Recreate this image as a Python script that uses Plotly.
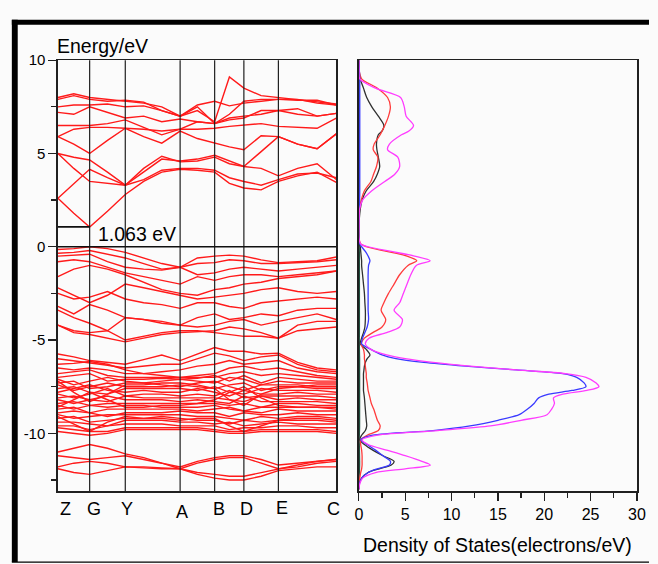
import plotly.graph_objects as go

W, H = 658, 564

# ---------------- band structure data ----------------
k_labels = ["Z", "G", "Y", "A", "B", "D", "E", "C"]
k_pos = [0.0, 0.114, 0.242, 0.439, 0.563, 0.668, 0.792, 1.0]
# sampled k path (Z, zg, G, gy, Y, ya1, ya2, A, ab, B, bd, D, de, E, ec1, ec2, C)
k_grid = [0.0, 0.057, 0.114, 0.178, 0.242, 0.308, 0.373, 0.439, 0.501,
          0.563, 0.616, 0.668, 0.730, 0.792, 0.861, 0.931, 1.0]

band_gap = 1.063
fermi_level = 0.0

conduction_bands = [
    [2.6, 1.8, 1.06, 1.9, 2.8, 3.5, 4.0, 4.15, 4.1, 4.0, 3.4, 3.15, 3.05, 3.5, 3.8, 4.0, 3.45],
    [2.6, 3.4, 4.15, 3.7, 3.3, 4.2, 4.85, 4.55, 4.6, 4.8, 4.45, 4.3, 4.2, 3.8, 4.2, 4.45, 3.6],
    [5.0, 4.2, 3.5, 3.4, 3.3, 3.6, 4.1, 4.2, 4.2, 4.1, 3.7, 3.5, 3.3, 3.6, 3.9, 3.95, 3.7],
    [5.0, 4.8, 4.65, 4.0, 3.3, 4.0, 4.7, 4.6, 4.7, 4.9, 4.6, 4.3, 5.1, 5.9, 5.5, 5.25, 6.05],
    [5.9, 5.5, 5.0, 5.7, 6.35, 5.9, 5.55, 6.2, 5.8, 5.55, 5.35, 5.2, 5.95, 5.9, 5.5, 5.25, 6.05],
    [5.9, 6.3, 6.4, 6.4, 6.35, 6.3, 6.2, 6.3, 6.3, 6.35, 6.45, 6.5, 6.6, 6.45, 6.4, 6.35, 6.9],
    [6.5, 6.5, 6.5, 6.6, 6.8, 6.4, 6.0, 6.3, 6.7, 6.6, 6.9, 7.0, 7.1, 7.3, 7.1, 7.0, 7.15],
    [7.2, 7.1, 7.5, 7.2, 6.9, 7.0, 6.7, 6.85, 6.7, 6.6, 6.8, 6.9, 7.3, 7.3, 7.4, 7.0, 7.15],
    [7.5, 7.6, 7.6, 7.65, 7.5, 7.55, 7.3, 7.0, 7.6, 7.8, 7.55, 7.7, 7.8, 7.9, 7.9, 7.7, 7.6],
    [7.9, 8.1, 7.9, 7.8, 7.85, 7.75, 7.3, 7.0, 7.5, 6.6, 7.1, 7.8, 7.9, 7.9, 7.85, 7.85, 7.6],
    [8.0, 8.2, 8.0, 7.9, 7.8, 7.7, 7.5, 7.0, 7.3, 6.7, 9.1, 8.5, 8.1, 8.0, 7.9, 7.75, 7.65],
]

valence_bands = [
    [-0.15, -0.1, 0.0, -0.1, -0.3, -0.6, -0.9, -1.1, -0.6, -0.5, -0.45, -0.5, -0.7, -0.85, -0.8, -0.75, -0.55],
    [-0.35, -0.3, -0.2, -0.4, -0.6, -0.9, -1.2, -1.1, -0.9, -0.85, -0.7, -0.75, -0.9, -0.9, -0.85, -0.8, -0.7],
    [-0.5, -0.45, -0.4, -0.8, -1.1, -1.2, -1.25, -1.1, -1.5, -1.4, -1.2, -1.1, -1.2, -1.3, -1.2, -1.1, -1.0],
    [-0.8, -0.7, -0.8, -1.1, -1.4, -1.6, -1.8, -2.0, -1.6, -1.8, -1.6, -1.5, -1.5, -1.6, -1.5, -1.4, -1.3],
    [-1.6, -1.2, -1.0, -1.2, -1.5, -1.9, -2.3, -2.5, -2.6, -2.3, -2.2, -2.0, -1.9, -1.7, -1.6, -1.5, -1.3],
    [-2.2, -2.6, -3.0, -2.6, -2.0, -2.2, -2.4, -2.6, -2.8, -2.7, -2.6, -2.5, -2.3, -2.2, -2.4, -2.5, -2.4],
    [-2.5, -2.8, -2.7, -2.4, -2.8, -3.0, -3.1, -3.3, -3.0, -3.0, -3.2, -3.3, -3.0, -2.9, -2.8, -2.7, -2.8],
    [-3.2, -3.6, -3.1, -3.4, -3.8, -3.9, -4.0, -4.2, -3.8, -3.6, -3.9, -3.8, -3.6, -3.7, -3.4, -3.3, -3.3],
    [-3.4, -3.8, -4.1, -4.5, -3.8, -3.9, -4.1, -4.2, -4.3, -4.2, -4.0, -3.9, -4.2, -4.0, -3.8, -3.6, -3.9],
    [-4.2, -4.5, -4.6, -4.5, -5.0, -4.8, -4.6, -4.5, -4.5, -4.6, -4.7, -4.8, -4.8, -4.9, -4.2, -4.0, -4.0],
    [-4.2, -4.6, -4.7, -4.9, -5.1, -4.9, -4.7, -4.6, -4.55, -4.5, -4.3, -4.4, -4.6, -4.9, -4.5, -4.4, -4.3],
]

dense_bands = [
    [-5.75, -5.9, -6.1, -6.2, -6.3, -6.05, -5.8, -6.1, -5.75, -5.4, -5.6, -5.6, -5.75, -5.7, -6.2, -6.5, -6.6],
    [-6.0, -6.1, -6.2, -6.35, -6.5, -6.4, -6.3, -6.3, -6.0, -5.7, -5.85, -6.1, -5.9, -5.8, -6.3, -6.6, -6.7],
    [-6.3, -6.25, -6.15, -6.3, -6.6, -6.8, -6.7, -6.6, -6.4, -6.3, -6.1, -6.3, -6.2, -6.1, -6.5, -6.7, -6.8],
    [-6.5, -6.6, -6.5, -6.6, -6.8, -6.8, -6.9, -7.0, -6.9, -6.8, -6.5, -6.4, -6.6, -6.5, -6.7, -6.9, -7.0],
    [-6.8, -6.7, -6.6, -6.9, -7.0, -7.0, -7.0, -7.0, -7.0, -7.0, -6.8, -6.7, -6.9, -6.8, -6.9, -7.0, -7.1],
    [-7.0, -6.9, -6.8, -7.2, -7.1, -7.1, -7.05, -7.1, -7.05, -6.9, -7.2, -6.9, -7.3, -7.0, -7.1, -7.2, -7.2],
    [-7.1, -7.4, -7.2, -7.0, -7.2, -7.3, -7.2, -7.1, -7.2, -7.3, -7.0, -7.1, -7.4, -7.2, -7.3, -7.3, -7.3],
    [-7.3, -7.2, -7.6, -7.5, -7.3, -7.3, -7.4, -7.5, -7.3, -7.2, -7.5, -7.7, -7.4, -7.4, -7.4, -7.5, -7.5],
    [-7.4, -7.7, -7.5, -7.3, -7.5, -7.5, -7.5, -7.4, -7.5, -7.6, -7.4, -7.3, -7.7, -7.5, -7.5, -7.6, -7.6],
    [-7.6, -7.5, -7.8, -7.9, -7.6, -7.6, -7.6, -7.6, -7.7, -7.5, -7.8, -7.9, -7.6, -7.7, -7.7, -7.7, -7.8],
    [-7.8, -7.6, -7.4, -7.7, -7.8, -7.7, -7.8, -7.8, -7.6, -7.8, -8.0, -7.7, -7.9, -7.9, -7.8, -7.9, -7.9],
    [-7.9, -8.1, -7.9, -7.6, -8.0, -7.9, -7.9, -8.0, -7.9, -8.0, -7.7, -8.1, -8.0, -8.0, -8.0, -8.0, -8.1],
    [-8.1, -8.0, -8.2, -8.3, -8.0, -8.1, -8.1, -8.1, -8.1, -8.1, -8.2, -8.3, -8.0, -8.2, -8.1, -8.2, -8.2],
    [-8.2, -8.4, -8.2, -8.0, -8.2, -8.2, -8.2, -8.3, -8.2, -8.3, -8.4, -8.0, -8.3, -8.3, -8.3, -8.3, -8.4],
    [-8.4, -8.3, -8.5, -8.4, -8.4, -8.4, -8.4, -8.4, -8.4, -8.4, -8.5, -8.4, -8.6, -8.4, -8.4, -8.5, -8.5],
    [-8.5, -8.7, -8.5, -8.6, -8.5, -8.5, -8.6, -8.6, -8.6, -8.5, -8.7, -8.8, -8.6, -8.6, -8.6, -8.6, -8.7],
    [-8.7, -8.6, -8.9, -8.7, -8.7, -8.7, -8.7, -8.7, -8.8, -8.7, -8.6, -8.8, -8.9, -8.7, -8.8, -8.8, -8.8],
    [-8.9, -8.8, -8.9, -9.1, -8.9, -8.9, -8.9, -8.8, -8.9, -8.9, -9.1, -8.9, -9.0, -9.0, -8.9, -9.0, -9.0],
    [-9.0, -9.2, -9.1, -9.0, -9.0, -9.0, -9.0, -9.0, -9.1, -9.1, -9.2, -9.3, -9.1, -9.2, -9.1, -9.1, -9.2],
    [-9.2, -9.1, -9.4, -9.3, -9.2, -9.2, -9.1, -9.2, -9.3, -9.3, -9.5, -9.3, -9.4, -9.3, -9.3, -9.3, -9.4],
    [-9.4, -9.4, -9.5, -9.6, -9.3, -9.3, -9.3, -9.4, -9.4, -9.5, -9.4, -9.6, -9.5, -9.4, -9.5, -9.5, -9.5],
    [-9.6, -9.6, -9.8, -9.6, -9.5, -9.5, -9.5, -9.6, -9.6, -9.6, -9.8, -9.7, -9.7, -9.6, -9.6, -9.7, -9.7],
    [-9.7, -9.8, -9.9, -9.9, -9.7, -9.7, -9.7, -9.7, -9.7, -9.8, -9.9, -9.9, -9.8, -9.8, -9.8, -9.8, -9.9],
    [-9.9, -10.0, -10.1, -10.0, -9.8, -9.8, -9.8, -9.8, -9.8, -9.9, -10.0, -10.0, -9.9, -9.9, -9.9, -9.9, -10.0],
    [-7.2, -7.8, -8.3, -7.9, -7.4, -7.4, -7.3, -7.3, -7.4, -7.6, -8.2, -8.5, -7.9, -7.6, -7.5, -7.4, -7.4],
    [-8.6, -8.2, -7.8, -8.2, -8.6, -8.6, -8.5, -8.5, -8.4, -8.2, -7.8, -7.5, -8.1, -8.5, -8.6, -8.6, -8.6],
    [-9.1, -9.5, -9.9, -9.4, -9.1, -9.2, -9.2, -9.3, -9.2, -9.2, -9.6, -9.9, -9.6, -9.3, -9.2, -9.2, -9.3],
]

deep_bands = [
    [-11.0, -10.8, -10.6, -10.8, -11.1, -11.3, -11.6, -11.8, -11.5, -11.3, -11.2, -11.2, -11.4, -11.7, -11.6, -11.5, -11.4],
    [-11.2, -11.3, -11.4, -11.3, -11.2, -11.4, -11.6, -11.9, -12.1, -12.2, -12.3, -12.3, -12.1, -11.9, -11.7, -11.5, -11.4],
    [-11.8, -11.6, -11.5, -11.6, -11.8, -11.8, -11.85, -11.9, -11.6, -11.4, -11.3, -11.3, -11.6, -11.9, -11.8, -11.6, -11.5],
    [-11.9, -12.1, -12.2, -12.0, -11.8, -11.85, -11.9, -11.9, -12.2, -12.4, -12.5, -12.5, -12.3, -12.0, -11.9, -11.8, -11.8],
]

# ---------------- density of states data ----------------
dos_energy = [10, 9.5, 9.0, 8.5, 8.0, 7.5, 7.0, 6.5, 6.2, 6.0, 5.5, 5.2, 4.8, 4.3, 3.9, 3.5,
              3.0, 2.5, 2.0, 1.5, 1.0, 0.5, 0.15, 0.0, -0.25, -0.5, -0.75, -1.0, -1.5, -2.0,
              -2.5, -3.0, -3.4, -3.9, -4.3, -4.6, -4.9, -5.2, -5.5, -5.8, -6.0, -6.2, -6.4,
              -6.6, -6.8, -7.0, -7.3, -7.5, -7.7, -7.9, -8.1, -8.4, -8.7, -9.0, -9.3, -9.6,
              -9.85, -10.1, -10.35, -10.6, -10.9, -11.2, -11.5, -11.7, -11.9, -12.1, -12.4,
              -12.7, -13.0]

dos_total = [0, 0.02, 0.1, 1.8, 4.5, 4.9, 5.1, 5.9, 5.4, 4.6, 3.3, 3.1, 4.2, 4.4, 3.9, 2.8,
             1.4, 0.4, 0.08, 0.02, 0, 0, 0.2, 1.0, 3.5, 6.0, 7.7, 6.2, 5.6, 5.2,
             4.8, 4.4, 3.8, 4.7, 4.4, 3.0, 1.1, 0.7, 1.3, 3.0, 5.0, 8.0, 12.0,
             17.0, 22.3, 24.5, 25.6, 25.9, 24.6, 22.0, 21.0, 21.1, 20.8, 20.3, 17.5, 14.2,
             8.5, 2.0, 0.35, 1.0, 3.0, 5.0, 6.8, 7.7, 5.0, 1.8, 0.4,
             0.1, 0]

dos_blue = [0, 0.05, 0.1, 0.1, 0.1, 0.1, 0.1, 0.1, 0.1, 0.1, 0.1, 0.1, 0.1, 0.1, 0.1, 0.1,
            0.1, 0.08, 0.05, 0.02, 0, 0, 0.1, 0.3, 0.7, 1.0, 1.2, 1.05, 1.0, 1.0,
            1.0, 1.0, 1.0, 1.05, 0.9, 0.65, 0.4, 0.3, 1.3, 2.5, 4.0, 7.0, 11.5,
            17.0, 22.0, 23.5, 24.3, 24.5, 23.0, 20.5, 19.4, 18.9, 18.2, 17.3, 15.0, 12.0,
            8.0, 1.5, 0.2, 0.9, 1.8, 2.6, 3.4, 3.3, 2.0, 1.0, 0.3,
            0.05, 0]

dos_red = [0, 0.02, 0.3, 2.0, 3.1, 3.4, 3.2, 2.8, 2.5, 2.3, 1.65, 1.55, 2.05, 1.9, 1.6, 1.3,
           0.6, 0.25, 0.06, 0.02, 0, 0, 0.2, 0.8, 3.0, 5.2, 6.25, 5.3, 4.4, 3.8,
           3.2, 2.7, 2.4, 2.9, 2.5, 1.5, 0.6, 0.25, 0.5, 0.6, 0.6, 0.65, 0.7,
           0.75, 0.8, 0.8, 0.9, 0.95, 1.0, 1.1, 1.2, 1.35, 1.6, 1.8, 2.0, 2.3,
           2.1, 0.9, 0.2, 0.2, 0.3, 0.35, 0.35, 0.35, 0.3, 0.2, 0.1,
           0.05, 0]

dos_black = [0, 0.02, 0.15, 0.5, 0.85, 1.4, 2.1, 2.7, 2.5, 2.1, 1.9, 1.95, 2.1, 2.25, 2.0, 1.6,
             0.8, 0.35, 0.15, 0.05, 0, 0, 0.05, 0.15, 0.2, 0.25, 0.3, 0.3, 0.4, 0.5,
             0.6, 0.65, 0.7, 0.7, 0.65, 0.5, 0.3, 0.15, 0.8, 1.2, 0.9, 0.7, 0.6,
             0.55, 0.5, 0.5, 0.5, 0.5, 0.5, 0.55, 0.6, 0.65, 0.7, 0.75, 0.8, 0.85,
             0.7, 0.3, 0.1, 0.6, 1.5, 2.6, 3.8, 3.5, 2.2, 1.0, 0.3,
             0.05, 0]

dos_green = [0, 0.02, 0.03, 0.04, 0.05, 0.05, 0.05, 0.05, 0.05, 0.05, 0.05, 0.05,
             0.05, 0.05, 0.05, 0.05, 0.04, 0.03, 0.02, 0.01, 0, 0, 0.02, 0.04, 0.05, 0.06,
             0.06, 0.06, 0.06, 0.06, 0.06, 0.06, 0.06, 0.06, 0.06, 0.06, 0.05, 0.05, 0.06,
             0.07, 0.08, 0.08, 0.08, 0.08, 0.08, 0.08, 0.08, 0.08, 0.08, 0.08, 0.08, 0.08,
             0.08, 0.08, 0.08, 0.08, 0.07, 0.05, 0.04, 0.05, 0.06, 0.07, 0.08, 0.08, 0.07,
             0.05, 0.03, 0.01, 0]

dos_series = [
    ("green", dos_green, "#1f4f3f"),
    ("black", dos_black, "#303030"),
    ("red", dos_red, "#ff3b3b"),
    ("blue", dos_blue, "#3a3aff"),
    ("magenta", dos_total, "#ff3cff"),
]

# ---------------- figure ----------------
def px_x(p):
    return p / W

def px_y(p):
    return 1 - p / H

E_MIN, E_MAX = -13.1, 10.0
FONT = "Liberation Sans, Arial, sans-serif"

fig = go.Figure()

for group in (conduction_bands, valence_bands, dense_bands, deep_bands):
    for band in group:
        fig.add_trace(go.Scatter(x=k_grid, y=band, mode="lines",
                                 line=dict(color="#ff1a1a", width=1.4),
                                 hoverinfo="skip", showlegend=False,
                                 xaxis="x", yaxis="y"))

for name, vals, col in dos_series:
    fig.add_trace(go.Scatter(x=vals, y=dos_energy, mode="lines",
                             line=dict(color=col, width=1.3, shape="spline", smoothing=0.8),
                             hoverinfo="skip", showlegend=False,
                             xaxis="x2", yaxis="y2"))

shapes = []
for kp in k_pos[1:-1]:
    shapes.append(dict(type="line", xref="x", yref="y domain", x0=kp, x1=kp, y0=0, y1=1,
                       line=dict(color="#202020", width=1.2), layer="above"))
# Fermi level and band gap markers
shapes.append(dict(type="line", xref="x", yref="y", x0=k_pos[0], x1=k_pos[-1],
                   y0=fermi_level, y1=fermi_level, line=dict(color="#101010", width=1.6), layer="above"))
shapes.append(dict(type="line", xref="x", yref="y", x0=k_pos[0], x1=k_pos[1],
                   y0=band_gap, y1=band_gap, line=dict(color="#101010", width=1.6), layer="above"))
# outer frame
shapes += [
    dict(type="rect", xref="paper", yref="paper", x0=px_x(8), x1=px_x(14), y0=px_y(562), y1=px_y(11),
         fillcolor="black", line=dict(width=0)),
    dict(type="rect", xref="paper", yref="paper", x0=px_x(8), x1=1.0, y0=px_y(16), y1=px_y(11),
         fillcolor="black", line=dict(width=0)),
    dict(type="line", xref="paper", yref="paper", x0=px_x(8), x1=1.0, y0=px_y(562), y1=px_y(562),
         line=dict(color="black", width=1.2)),
]

annotations = []
k_label_px = [(62.5, 508), (92, 508), (125.5, 508), (181.5, 511), (219, 508), (247, 508), (283.5, 507), (336, 508)]
for lab, (lx, ly) in zip(k_labels, k_label_px):
    annotations.append(dict(text=lab, x=px_x(lx), y=px_y(ly), xref="paper", yref="paper",
                            showarrow=False, xanchor="center", yanchor="middle",
                            font=dict(family=FONT, size=18, color="black")))
annotations.append(dict(text="Energy/eV", x=px_x(52), y=px_y(38), xref="paper", yref="paper",
                        showarrow=False, xanchor="left", yanchor="middle",
                        font=dict(family=FONT, size=19.5, color="black")))
annotations.append(dict(text=f"{band_gap:.3f} eV", x=px_x(94), y=px_y(229), xref="paper", yref="paper",
                        showarrow=False, xanchor="left", yanchor="middle",
                        font=dict(family=FONT, size=19.5, color="black")))
annotations.append(dict(text="Density of States(electrons/eV)", x=px_x(503), y=px_y(545),
                        xref="paper", yref="paper", showarrow=False, xanchor="center", yanchor="middle",
                        font=dict(family=FONT, size=19.5, color="black")))

axis_line = dict(showline=True, linecolor="#202020", linewidth=1.6, mirror=True, zeroline=False,
                 showgrid=False)

fig.update_layout(
    width=W, height=H,
    margin=dict(l=0, r=0, t=0, b=0),
    paper_bgcolor="#fbfbfb", plot_bgcolor="#fbfbfb",
    showlegend=False,
    font=dict(family=FONT, color="black"),
    xaxis=dict(domain=[px_x(55), px_x(339)], range=[0, 1], showticklabels=False, ticks="",
               **axis_line),
    yaxis=dict(domain=[px_y(490), px_y(52)], range=[E_MIN, E_MAX], tickvals=[10, 5, 0, -5, -10],
               ticktext=["10", "5", "0", "-5", "-10"], ticks="outside", ticklen=8, tickwidth=1.3,
               tickcolor="#202020", tickfont=dict(family=FONT, size=15, color="black"),
               minor=dict(tickvals=[7.5, 2.5, -2.5, -7.5, -12.5], ticks="outside", ticklen=5,
                          tickwidth=1.3, tickcolor="#202020"),
               **axis_line),
    xaxis2=dict(domain=[px_x(362), px_x(645.7)], range=[0, 30], anchor="y2",
                tickvals=[0, 5, 10, 15, 20, 25, 30], ticks="outside", ticklen=8, tickwidth=1.3,
                tickcolor="#202020", tickfont=dict(family=FONT, size=16, color="black"),
                minor=dict(tickvals=[2.5, 7.5, 12.5, 17.5, 22.5, 27.5], ticks="outside", ticklen=5,
                           tickwidth=1.3, tickcolor="#202020"),
                **axis_line),
    yaxis2=dict(domain=[px_y(490), px_y(52)], range=[E_MIN, E_MAX], anchor="x2",
                showticklabels=False, ticks="", **axis_line),
    shapes=shapes,
    annotations=annotations,
)

fig.write_html("out.html",
               config={"displayModeBar": False, "staticPlot": True},
               post_script="document.body.style.margin='0';document.body.style.padding='0';"
                           "document.documentElement.style.overflow='hidden';")
